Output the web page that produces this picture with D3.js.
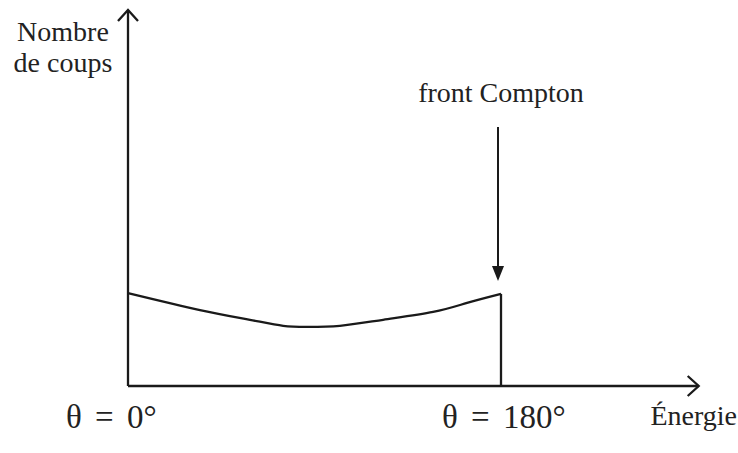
<!DOCTYPE html>
<html>
<head>
<meta charset="utf-8">
<script src="https://cdn.jsdelivr.net/npm/d3@7"></script>
<style>
body{margin:0;background:#fff;}
text{font-family:"Liberation Serif","Tinos","Times New Roman","DejaVu Serif",serif;fill:#222;}
</style>
</head>
<body>
<svg width="738" height="453"></svg>
<script>
// energie (0..100 = front Compton) et nombre de coups
var energie = [0, 19.3, 32.7, 41.6, 48, 56.8, 68.4, 81.8, 90.9, 100];
var coups = [24.7, 20.2, 17.6, 16, 15.7, 16, 17.6, 19.7, 22.1, 24.5];
var tickLabels = ['\u03b8 = 0\u00b0', '\u03b8 = 180\u00b0'];
var tickValues = [0, 100];
var xAxisMax = 153, yAxisMax = 100;
var yTitle = ['Nombre', 'de coups'], xTitle = '\u00c9nergie', note = 'front Compton';

var svg = d3.select('svg');
var ink = '#1a1a1a';

var xscale = d3.scaleLinear().domain([0, 100]).range([128, 501]);
var yscale = d3.scaleLinear().domain([0, yAxisMax]).range([386, 10]);

var g = svg.append('g');

// axes
g.append('line').attr('x1', xscale(0)).attr('x2', xscale(0))
	.attr('y1', yscale(0)).attr('y2', yscale(yAxisMax))
	.attr('stroke', ink).attr('stroke-width', 2.3);
g.append('path')
	.attr('d', `M${xscale(0)-10},${yscale(yAxisMax)+11} L${xscale(0)},${yscale(yAxisMax)} L${xscale(0)+10},${yscale(yAxisMax)+11}`)
	.attr('fill', 'none').attr('stroke', ink).attr('stroke-width', 2.3);

g.append('line').attr('x1', xscale(0)).attr('x2', xscale(xAxisMax))
	.attr('y1', yscale(0)).attr('y2', yscale(0))
	.attr('stroke', ink).attr('stroke-width', 2.3);
g.append('path')
	.attr('d', `M${xscale(xAxisMax)-11},${yscale(0)-10} L${xscale(xAxisMax)},${yscale(0)} L${xscale(xAxisMax)-11},${yscale(0)+10}`)
	.attr('fill', 'none').attr('stroke', ink).attr('stroke-width', 2.3);

// spectre
var data = energie.map((e, i) => ({e: e, c: coups[i]}));
var line = d3.line().x(d => xscale(d.e)).y(d => yscale(d.c)).curve(d3.curveNatural);
g.append('path').datum(data).attr('d', line)
	.attr('fill', 'none').attr('stroke', ink).attr('stroke-width', 2.3);

// front Compton (chute verticale)
var last = data[data.length - 1];
g.append('line').attr('x1', xscale(last.e)).attr('x2', xscale(last.e))
	.attr('y1', yscale(last.c)).attr('y2', yscale(0))
	.attr('stroke', ink).attr('stroke-width', 2.3);

// fleche annotation
var ax = xscale(last.e) - 3;
g.append('line').attr('x1', ax).attr('x2', ax).attr('y1', 127).attr('y2', 268)
	.attr('stroke', ink).attr('stroke-width', 2);
g.append('path').attr('d', `M${ax-6},${266} L${ax+6},${266} L${ax},${281} Z`).attr('fill', ink);
g.append('text').attr('x', xscale(last.e)).attr('y', 102).attr('text-anchor', 'middle')
	.attr('font-size', 28).text(note);

// labels axes
g.selectAll('.tl').data(tickValues).enter().append('text')
	.attr('class', 'tl')
	.attr('x', (d, i) => i ? 442 : 66).attr('y', 428)
	.attr('font-size', 33).attr('word-spacing', 5).text((d, i) => tickLabels[i]);

g.append('text').attr('x', 737).attr('y', 425).attr('text-anchor', 'end')
	.attr('font-size', 28).text(xTitle);

g.selectAll('.yt').data(yTitle).enter().append('text')
	.attr('class', 'yt').attr('x', 63).attr('y', (d, i) => 41 + i * 31)
	.attr('text-anchor', 'middle').attr('font-size', 28).text(d => d);
</script>
</body>
</html>
